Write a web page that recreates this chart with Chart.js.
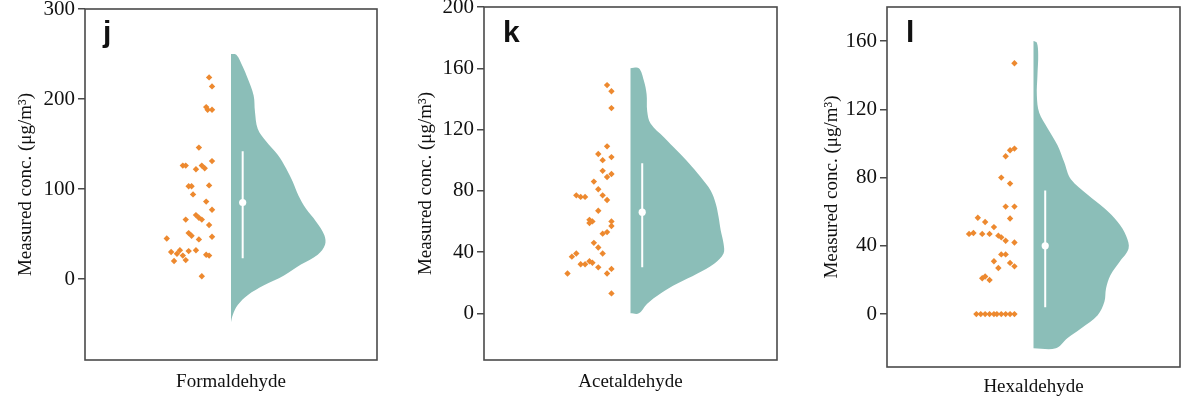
<!DOCTYPE html>
<html>
<head>
<meta charset="utf-8">
<script src="https://cdn.jsdelivr.net/npm/chart.js@4.4.1/dist/chart.umd.min.js"></script>
<style>
  html, body { margin: 0; padding: 0; background: #fff; }
  #wrap { position: relative; width: 1200px; height: 420px; }
  canvas { position: absolute; top: 0; }
</style>
</head>
<body>
<div id="wrap">
  <canvas id="panel-j" width="400" height="420" style="left:0px"></canvas>
  <canvas id="panel-k" width="400" height="420" style="left:400px"></canvas>
  <canvas id="panel-l" width="400" height="420" style="left:800px"></canvas>
</div>
<script>
// ---- data ----
const categories = ["Formaldehyde", "Acetaldehyde", "Hexaldehyde"];
const panelLetters = ["j", "k", "l"];

// y tick labels per panel
const ticksJ = [0, 100, 200, 300];
const ticksK = [0, 40, 80, 120, 160, 200];
const ticksL = [0, 40, 80, 120, 160];

// measured concentrations (orange points) + horizontal jitter
const valuesJ = [224, 214, 191, 188, 188, 146, 131, 126, 126, 122, 126, 123, 103, 103, 104, 94, 86, 77, 71, 68,
                 66, 66, 60, 51, 48, 47, 45, 44, 32, 32, 31, 30, 28, 26, 27, 26, 20, 21, 3];
const jitterJ = [-0.15, -0.13, -0.17, -0.16, -0.13, -0.22, -0.13, -0.33, -0.31, -0.24, -0.20, -0.18, -0.29, -0.27, -0.15, -0.26, -0.17, -0.13, -0.24, -0.22,
                 -0.20, -0.31, -0.15, -0.29, -0.27, -0.13, -0.44, -0.22, -0.35, -0.24, -0.29, -0.41, -0.37, -0.33, -0.17, -0.15, -0.39, -0.31, -0.20];

const valuesK = [149, 145, 134, 109, 104, 102, 100, 93, 91, 89, 86, 81, 77, 76, 76, 77, 74, 67, 61, 60,
                 59, 60, 57, 52, 53, 46, 43, 39, 37, 39, 32, 32, 34, 33, 30, 29, 26, 26, 13];
const jitterK = [-0.16, -0.13, -0.13, -0.16, -0.22, -0.13, -0.19, -0.19, -0.13, -0.16, -0.25, -0.22, -0.37, -0.34, -0.31, -0.19, -0.16, -0.22, -0.28, -0.26,
                 -0.28, -0.13, -0.13, -0.19, -0.16, -0.25, -0.22, -0.19, -0.40, -0.37, -0.34, -0.31, -0.28, -0.26, -0.22, -0.13, -0.16, -0.43, -0.13];

const valuesL = [147, 97, 96, 92.5, 80, 76.5, 63, 63, 56, 56.5, 54, 51, 47, 47.5, 47, 47, 46, 45, 43, 42,
                 35, 35, 31, 30, 27, 28, 21, 22, 20, 0, 0, 0, 0, 0, 0, 0, 0, 0, 0];
const jitterL = [-0.13, -0.13, -0.16, -0.19, -0.22, -0.16, -0.19, -0.13, -0.16, -0.38, -0.33, -0.27, -0.44, -0.41, -0.35, -0.30, -0.24, -0.22, -0.19, -0.13,
                 -0.22, -0.19, -0.27, -0.16, -0.24, -0.13, -0.35, -0.33, -0.30, -0.39, -0.36, -0.33, -0.30, -0.27, -0.25, -0.22, -0.19, -0.16, -0.13];

// half-violin outline: y value and half width
const violinYJ = [250, 249, 236, 223, 204, 186, 167, 153, 138, 123, 108, 93, 78, 64, 49, 38, 27, 16, 4, -7, -18, -29, -40, -48];
const violinWJ = [0, 0.038, 0.080, 0.114, 0.155, 0.164, 0.183, 0.240, 0.320, 0.377, 0.423, 0.461, 0.514, 0.582, 0.639, 0.644, 0.594, 0.479, 0.363, 0.226, 0.114, 0.046, 0.012, 0];

const violinYK = [160, 160, 152, 143, 132, 124, 115, 106, 98, 89, 80, 71.5, 63, 54, 45.5, 39, 32.4, 26, 19.4, 13, 6.3, 0, 0];
const violinWK = [0, 0.057, 0.091, 0.110, 0.114, 0.137, 0.228, 0.320, 0.399, 0.479, 0.548, 0.582, 0.601, 0.616, 0.635, 0.635, 0.571, 0.457, 0.320, 0.205, 0.114, 0.057, 0];

const violinYL = [160, 159, 152, 140, 128, 118, 109, 99, 89, 79, 70, 62, 54, 46, 38.5, 30.6, 22.8, 15, 7.2, -0.6, -8.4, -14, -20, -20];
const violinWL = [0, 0.023, 0.032, 0.027, 0.023, 0.039, 0.096, 0.164, 0.210, 0.255, 0.370, 0.484, 0.575, 0.632, 0.649, 0.587, 0.525, 0.495, 0.484, 0.438, 0.324, 0.233, 0.153, 0];

// box line (lower, upper) and median
const boxJ = [23, 142], medianJ = 85;
const boxK = [30, 98], medianK = 66;
const boxL = [4, 72.5], medianL = 40;

// y ranges
const rangeJ = [-90, 300];
const rangeK = [-30.5, 200];
const rangeL = [-31, 180];

const ORANGE = "#ED892F";
const TEAL = "#8BBEB8";
const FRAME = "#4a4a4a";
const BOX_X = 0.08;
const SERIF = "'Liberation Serif', 'Times New Roman', serif";

// 邊框 + 面板字母
function framePlugin(letter, dx) {
    return {
        id: "frame-" + letter,
        afterDraw(chart) {
            const { ctx, chartArea: a } = chart;
            ctx.save();
            ctx.strokeStyle = FRAME;
            ctx.lineWidth = 1.6;
            ctx.strokeRect(a.left, a.top, a.right - a.left, a.bottom - a.top);
            ctx.fillStyle = "#111";
            ctx.font = "bold 30px 'Liberation Sans', Arial, sans-serif";
            ctx.textBaseline = "alphabetic";
            ctx.fillText(letter, a.left + dx, 42);
            ctx.restore();
        }
    };
}

function buildPanel(canvasId, idx, values, jitter, vY, vW, box, median, yTicks, range, layout) {
    const violin = vY.map((y, i) => ({ x: vW[i], y: y }));
    const points = values.map((v, i) => ({ x: jitter[i], y: v }));

    new Chart(document.getElementById(canvasId), {
        type: "scatter",
        data: {
            datasets: [
                { data: points, pointStyle: "rectRot", pointRadius: 3.2, backgroundColor: ORANGE, borderWidth: 0, order: 0 },
                { data: [{ x: BOX_X, y: median }], pointRadius: 3.6, backgroundColor: "#fff", borderWidth: 0, order: 1 },
                { data: [{ x: BOX_X, y: box[1] }, { x: BOX_X, y: box[0] }], showLine: true, borderColor: "#fff",
                  borderWidth: 2, pointRadius: 0, order: 2 },
                { data: violin, showLine: true, fill: "shape", backgroundColor: TEAL, borderWidth: 0,
                  pointRadius: 0, tension: 0.35, order: 3 }
            ]
        },
        options: {
            responsive: false,
            animation: false,
            events: [],
            layout: { padding: layout.pad },
            plugins: { legend: { display: false }, tooltip: { enabled: false } },
            scales: {
                x: {
                    type: "linear", min: -1, max: 1,
                    ticks: { display: false },
                    grid: { display: false },
                    border: { display: false },
                    title: { display: true, text: categories[idx], color: "#111",
                             font: { family: SERIF, size: 19 } },
                    afterFit: s => { s.height = layout.xh; }
                },
                y: {
                    min: range[0], max: range[1],
                    afterBuildTicks: s => { s.ticks = yTicks.map(v => ({ value: v })); },
                    ticks: { color: "#111", padding: 3, font: { family: SERIF, size: 21 } },
                    grid: { drawOnChartArea: false, drawTicks: true, tickLength: 7, color: FRAME, lineWidth: 1.5 },
                    border: { display: false },
                    title: { display: true, text: "Measured conc. (\u03bcg/m\u00b3)", color: "#111",
                             font: { family: SERIF, size: 19 }, padding: { top: 3, bottom: 4 } },
                    afterFit: s => { s.width = layout.yw; s.paddingTop = 0; s.paddingBottom = 0; }
                }
            }
        },
        plugins: [framePlugin(panelLetters[idx], layout.dx)]
    });
}

buildPanel("panel-j", 0, valuesJ, jitterJ, violinYJ, violinWJ, boxJ, medianJ, ticksJ, rangeJ,
    { pad: { left: 12, right: 23, top: 9, bottom: 23 }, yw: 73, xh: 37, dx: 18 });
buildPanel("panel-k", 1, valuesK, jitterK, violinYK, violinWK, boxK, medianK, ticksK, rangeK,
    { pad: { left: 12, right: 23, top: 7, bottom: 23 }, yw: 72, xh: 37, dx: 19 });
buildPanel("panel-l", 2, valuesL, jitterL, violinYL, violinWL, boxL, medianL, ticksL, rangeL,
    { pad: { left: 18, right: 20, top: 7, bottom: 18 }, yw: 69, xh: 35, dx: 19 });
</script>
</body>
</html>
